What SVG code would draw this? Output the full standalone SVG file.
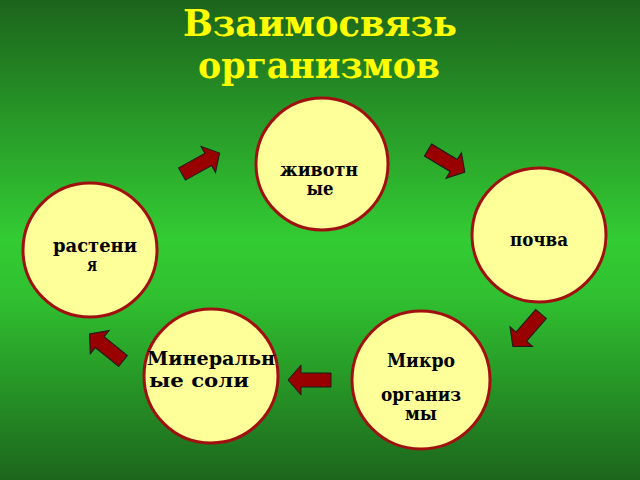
<svg xmlns="http://www.w3.org/2000/svg" width="640" height="480" viewBox="0 0 640 480">
<defs>
<linearGradient id="bg" x1="0" y1="0" x2="0" y2="1">
<stop offset="0" stop-color="#1c641c"/>
<stop offset="0.5" stop-color="#33cc33"/>
<stop offset="0.62" stop-color="#30c030"/>
<stop offset="1" stop-color="#1c661c"/>
</linearGradient>
<path id="arr" d="M0,-7 H30 V-15 L43,0 L30,15 V7 H0 Z"/>
</defs>
<style>
.node{fill:#ffff99;stroke:#a01010;stroke-width:3}
.lbl{font-family:"DejaVu Serif","Liberation Serif",serif;font-weight:bold;font-size:18px;fill:#000;text-anchor:middle}
.title{font-family:"DejaVu Serif","Liberation Serif",serif;font-weight:bold;font-size:37px;fill:#ffff00;text-anchor:middle}
.ar{fill:#990000;stroke:#1a1a1a;stroke-width:1}
</style>
<rect width="640" height="480" fill="url(#bg)"/>
<text class="title" x="320" y="36" textLength="274" lengthAdjust="spacingAndGlyphs">Взаимосвязь</text>
<text class="title" x="319" y="78" textLength="242" lengthAdjust="spacingAndGlyphs">организмов</text>
<g id="connectors">
<use href="#arr" class="ar" transform="translate(182,174) rotate(-29)"/>
<use href="#arr" class="ar" transform="translate(428,150) rotate(31)"/>
<use href="#arr" class="ar" transform="translate(541,314) rotate(131)"/>
<use href="#arr" class="ar" transform="translate(331,380) rotate(180)"/>
<use href="#arr" class="ar" transform="translate(123,361) rotate(219)"/>
</g>
<g id="zhivotnye">
<circle class="node" cx="322" cy="164" r="66"/>
<text class="lbl" x="319" y="176" textLength="78" lengthAdjust="spacingAndGlyphs">животн</text>
<text class="lbl" x="320" y="195" textLength="27" lengthAdjust="spacingAndGlyphs">ые</text>
</g>
<g id="pochva">
<circle class="node" cx="539" cy="235" r="67"/>
<text class="lbl" x="539" y="246" textLength="58" lengthAdjust="spacingAndGlyphs">почва</text>
</g>
<g id="rasteniya">
<circle class="node" cx="90" cy="250" r="67"/>
<text class="lbl" x="95" y="252" textLength="84" lengthAdjust="spacingAndGlyphs">растени</text>
<text class="lbl" x="92" y="271" textLength="10" lengthAdjust="spacingAndGlyphs">я</text>
</g>
<g id="mineralnye">
<circle class="node" cx="211" cy="376" r="67"/>
<text class="lbl" x="211" y="365" textLength="128" lengthAdjust="spacingAndGlyphs">Минеральн</text>
<text class="lbl" x="199" y="387" textLength="100" lengthAdjust="spacingAndGlyphs">ые соли</text>
</g>
<g id="mikroorganizmy">
<circle class="node" cx="421" cy="380" r="69"/>
<text class="lbl" x="421" y="367" textLength="68" lengthAdjust="spacingAndGlyphs">Микро</text>
<text class="lbl" x="421" y="401" textLength="80" lengthAdjust="spacingAndGlyphs">организ</text>
<text class="lbl" x="421" y="420" textLength="32" lengthAdjust="spacingAndGlyphs">мы</text>
</g>
</svg>
